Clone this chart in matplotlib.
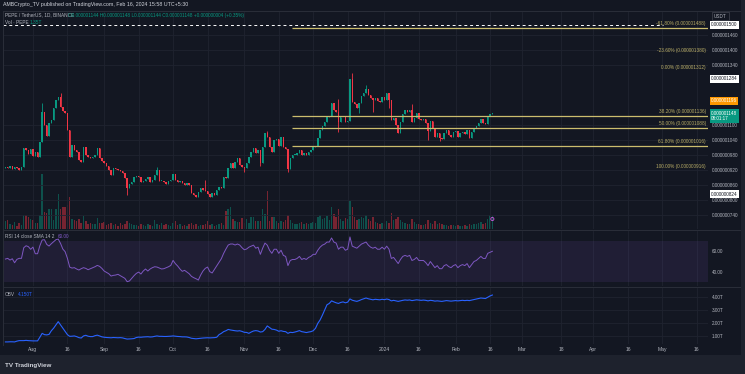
#!/usr/bin/env python
# coding: utf-8
import numpy as np
import pandas as pd
import matplotlib
matplotlib.use("Agg")
import matplotlib.pyplot as plt
import matplotlib.dates as mdates
from matplotlib.patches import Rectangle

# PEPE / USDT daily candles, prices in 1e-9 USDT
start_date = "2023-07-20"
first_open = 928
close = [932, 928, 936, 924, 932, 928, 920, 932, 1008, 1000,
         984, 1004, 976, 992, 972, 1032, 1152, 1100, 1056, 1108,
         1120, 1168, 1200, 1212, 1172, 1156, 1148, 1080, 972, 1020,
         1000, 992, 960, 952, 1012, 980, 972, 968, 972, 980,
         1008, 968, 956, 948, 936, 920, 900, 928, 924, 920,
         916, 908, 888, 848, 864, 872, 892, 896, 892, 872,
         876, 884, 892, 872, 880, 900, 920, 876, 876, 872,
         864, 876, 880, 904, 880, 872, 876, 868, 860, 868,
         860, 828, 820, 812, 832, 848, 840, 836, 824, 812,
         828, 820, 840, 852, 848, 892, 888, 928, 948, 928,
         952, 968, 940, 932, 928, 948, 972, 992, 1008, 988,
         1000, 948, 1012, 1068, 1052, 1012, 992, 1040, 1044, 1016,
         1052, 1012, 1004, 924, 968, 980, 980, 988, 1000, 980,
         988, 980, 992, 1000, 1012, 1016, 1048, 1080, 1096, 1112,
         1132, 1136, 1188, 1160, 1152, 1112, 1132, 1132, 1112, 1116,
         1284, 1192, 1184, 1168, 1188, 1216, 1228, 1244, 1220, 1208,
         1200, 1208, 1196, 1192, 1212, 1200, 1228, 1200, 1120, 1128,
         1100, 1068, 1112, 1144, 1160, 1152, 1160, 1112, 1128, 1148,
         1124, 1120, 1124, 1108, 1076, 1116, 1088, 1052, 1068, 1048,
         1044, 1068, 1080, 1060, 1052, 1072, 1076, 1052, 1068, 1072,
         1064, 1080, 1048, 1072, 1088, 1096, 1108, 1124, 1108, 1104,
         1136, 1144, 1148]
# wicks that stick out of the body: candle -> (high, low)
wicks = {16: (1188, None), 24: (1228, None), 53: (None, 820), 66: (932, None),
         87: (880, None), 104: (None, 912), 111: (None, 936), 114: (1076, None),
         123: (None, 912), 145: (1204, 1072), 151: (1308, None), 154: (None, 1148),
         157: (1260, None), 160: (None, 1152), 167: (None, 1168), 177: (1184, None),
         184: (None, 1040), 189: (None, 1036)}
# volume in trillions
volume = [0.8, 0.9, 0.5, 0.4, 0.7, 0.3, 0.6, 0.4, 1.4, 1.4,
          1.2, 1.0, 0.9, 0.6, 0.6, 1.4, 5.5, 1.7, 1.6, 2.0,
          2.0, 0.9, 2.0, 3.5, 2.0, 2.2, 2.2, 2.4, 3.2, 1.0,
          0.9, 0.8, 1.0, 0.6, 1.3, 0.8, 0.5, 0.6, 0.5, 0.5,
          1.1, 0.6, 0.6, 0.7, 0.4, 0.5, 0.6, 0.4, 0.5, 0.3,
          0.6, 0.4, 0.5, 0.8, 0.6, 0.5, 0.4, 0.4, 0.3, 0.5,
          0.4, 0.3, 0.5, 0.4, 0.3, 0.9, 0.5, 0.4, 0.6, 0.4,
          0.5, 0.4, 0.3, 0.6, 0.8, 0.4, 0.5, 0.3, 0.4, 0.3,
          0.5, 0.6, 0.4, 0.5, 0.3, 0.4, 0.4, 0.5, 0.8, 0.4,
          0.5, 0.3, 0.4, 0.5, 0.6, 0.4, 1.8, 2.0, 2.2, 1.0,
          0.8, 0.7, 0.7, 1.1, 0.6, 1.0, 0.6, 1.2, 1.2, 0.8,
          0.8, 0.8, 2.0, 1.5, 3.8, 0.8, 1.2, 1.2, 0.8, 0.6,
          0.8, 0.7, 0.9, 1.4, 0.9, 0.6, 0.5, 0.5, 0.6, 0.7,
          0.5, 0.6, 0.5, 0.6, 0.7, 0.6, 1.2, 1.4, 1.0, 1.1,
          1.3, 0.9, 2.2, 1.5, 1.2, 2.0, 1.0, 0.8, 1.1, 1.0,
          2.8, 2.2, 1.2, 0.9, 1.0, 1.2, 1.1, 1.4, 1.0, 0.8,
          1.2, 0.7, 0.6, 0.5, 0.6, 0.5, 0.8, 0.6, 1.6, 0.9,
          1.0, 1.2, 0.9, 0.7, 0.6, 0.5, 0.5, 1.0, 0.7, 0.5,
          0.5, 0.4, 0.4, 0.5, 0.9, 0.6, 0.5, 0.8, 0.5, 0.6,
          0.5, 0.4, 0.4, 0.3, 0.4, 0.4, 0.3, 0.4, 0.3, 0.3,
          0.4, 0.3, 0.5, 0.4, 0.5, 0.5, 0.6, 0.7, 0.5, 0.6,
          1.0, 1.4, 1.35]
rsi = [52.4, 53.1, 51.4, 52.7, 48.8, 52.1, 53.1, 53.1, 63.5, 65.4,
       64.5, 61.9, 64.1, 57.6, 57.6, 65.4, 71.0, 71.3, 66.7, 65.1,
       67.4, 69.3, 71.3, 71.9, 67.7, 62.2, 59.6, 53.1, 44.6, 43.6,
       44.0, 42.7, 41.7, 43.0, 44.0, 43.3, 42.0, 43.0, 44.0, 44.9,
       46.2, 45.3, 43.3, 40.7, 39.4, 38.1, 35.8, 36.5, 36.8, 37.5,
       36.2, 34.9, 33.6, 30.3, 31.0, 33.6, 36.2, 38.4, 39.7, 37.8,
       40.7, 42.7, 40.7, 42.7, 44.0, 44.9, 44.6, 43.6, 42.7, 43.0,
       44.0, 44.9, 46.2, 51.1, 47.9, 45.6, 42.7, 40.4, 41.4, 39.7,
       38.1, 35.5, 34.2, 33.2, 31.9, 36.8, 40.7, 43.3, 44.6, 40.1,
       38.8, 42.3, 45.9, 49.2, 52.7, 57.9, 62.2, 66.1, 67.1, 67.1,
       66.1, 67.1, 66.1, 63.5, 61.5, 62.2, 64, 65, 66, 63,
       64, 57, 63, 68, 66, 61, 58, 62, 62, 58,
       61, 56, 55, 46, 51, 52, 52, 53, 55, 52,
       53, 52, 54, 55, 57, 57, 61, 64, 66, 67,
       69, 69, 73, 69, 68, 62, 64, 64, 61, 62,
       74, 65, 64, 63, 65, 67, 68, 69, 66, 64,
       63, 64, 62, 62, 64, 62, 65, 62, 53, 54,
       51, 48, 52, 55, 56, 55, 56, 51, 52, 54,
       51, 51, 51, 49, 46, 50, 47, 44, 46, 43,
       43, 46, 47, 45, 44, 46, 47, 44, 46, 47,
       46, 48, 44, 47, 50, 51, 53, 55, 53, 53,
       58, 59, 60]
# on balance volume, trillions
obv = [0.54, 0.54, 0.55, 0.55, 0.54, 0.60, 0.64, 0.64, 0.64, 0.66,
       0.64, 0.63, 0.62, 0.62, 0.62, 0.90, 1.20, 1.10, 1.08, 1.12,
       1.40, 1.60, 1.85, 2.10, 1.85, 1.60, 1.35, 1.10, 0.97, 0.98,
       1.00, 0.95, 0.87, 0.84, 1.00, 1.05, 0.98, 0.95, 0.95, 1.02,
       1.06, 1.00, 0.93, 0.90, 0.88, 0.87, 0.86, 0.88, 0.87, 0.86,
       0.87, 0.85, 0.80, 0.76, 0.77, 0.78, 0.80, 0.88, 0.91, 0.90,
       0.92, 0.93, 0.94, 0.92, 0.93, 0.97, 1.00, 0.97, 0.97, 0.96,
       0.96, 0.97, 0.98, 1.00, 0.98, 0.96, 0.95, 0.93, 0.93, 0.92,
       0.88, 0.82, 0.80, 0.78, 0.80, 0.82, 0.84, 0.85, 0.86, 0.85,
       0.86, 0.87, 0.90, 1.10, 1.20, 1.33, 1.40, 1.50, 1.46, 1.43,
       1.40, 1.38, 1.40, 1.35, 1.28, 1.27, 1.20, 1.30, 1.38, 1.41,
       1.38, 1.30, 1.33, 1.50, 1.77, 1.65, 1.52, 1.50, 1.45, 1.36,
       1.40, 1.35, 1.33, 1.20, 1.28, 1.26, 1.30, 1.35, 1.41, 1.33,
       1.30, 1.26, 1.30, 1.33, 1.40, 1.59, 1.97, 2.23, 2.60, 3.00,
       3.40, 3.50, 3.70, 3.62, 3.55, 3.50, 3.58, 3.62, 3.55, 3.60,
       3.85, 3.75, 3.70, 3.66, 3.72, 3.80, 3.86, 3.92, 3.86, 3.82,
       3.78, 3.82, 3.80, 3.78, 3.82, 3.79, 3.84, 3.80, 3.70, 3.74,
       3.70, 3.66, 3.70, 3.74, 3.77, 3.75, 3.77, 3.72, 3.75, 3.78,
       3.76, 3.74, 3.76, 3.74, 3.70, 3.74, 3.72, 3.68, 3.70, 3.68,
       3.66, 3.69, 3.72, 3.70, 3.68, 3.70, 3.72, 3.70, 3.72, 3.74,
       3.72, 3.74, 3.72, 3.76, 3.80, 3.84, 3.88, 3.92, 3.90, 3.88,
       3.98, 4.08, 4.15]

fib_pct = ["-61.80%", "-23.60%", "0.00%", "38.20%", "50.00%", "61.80%", "100.00%"]
fib_price = [1488, 1380, 1312, 1136, 1088, 1016, 916]
fib_line = [True, False, False, True, True, True, False]
alert_price = 1500

tick_dates = ["2023-08-01", "2023-08-16", "2023-09-01", "2023-09-16", "2023-10-01",
              "2023-10-16", "2023-11-01", "2023-11-16", "2023-12-01", "2023-12-16",
              "2024-01-01", "2024-01-16", "2024-02-01", "2024-02-16", "2024-03-01",
              "2024-03-18", "2024-04-01", "2024-04-16", "2024-05-01", "2024-05-16"]
tick_labels = ["Aug", "16", "Sep", "16", "Oct", "16", "Nov", "16", "Dec", "16",
               "2024", "16", "Feb", "16", "Mar", "18", "Apr", "16", "May", "16"]
price_ticks = [740, 800, 860, 920, 980, 1040, 1100, 1340, 1400, 1460]

plt.rcParams["font.family"] = ["Liberation Sans", "DejaVu Sans"]

BG = "#131722"
GRID = "#1f2330"
TXT = "#b2b5be"
UP = "#089981"
DN = "#f23645"
FIB = "#cbbd6e"
W, H = 745, 374
FS = 3.3

dates = pd.date_range(start_date, periods=len(close), freq="D")
xs = mdates.date2num(dates)
x0 = xs[0]
c = np.array(close, float)
o = np.r_[first_open, c[:-1]]
hi = np.maximum(o, c)
lo = np.minimum(o, c)
for k, (h, l) in wicks.items():
    if h is not None:
        hi[k] = h
    if l is not None:
        lo[k] = l
up = c >= o
cols = np.where(up, UP, DN)


def px2x(px):  # horizontal pixel -> date number
    return x0 + (px - 5.4) / 2.297


def box(a, b, cc, d):
    return [a / W, 1 - d / H, (cc - a) / W, (d - b) / H]


fig = plt.figure(figsize=(W / 100, H / 100), dpi=100, facecolor=BG)
axv = fig.add_axes(box(3, 12, 708, 229))
ax1 = fig.add_axes(box(3, 12, 708, 229), sharex=axv)
ax2 = fig.add_axes(box(3, 231, 708, 286), sharex=axv)
ax3 = fig.add_axes(box(3, 288, 708, 344), sharex=axv)
ax1.patch.set_visible(False)
for ax in (axv, ax1, ax2, ax3):
    ax.set_facecolor(BG)
    for s in ax.spines.values():
        s.set_visible(False)
    ax.tick_params(length=0, labelsize=FS, colors=TXT, pad=2.5)

tx = mdates.date2num(pd.to_datetime(tick_dates))
axv.set_xlim(px2x(3), px2x(708))
for ax in (ax1, ax2, ax3):
    ax.set_xticks(tx)
    ax.grid(True, color=GRID, lw=0.6)
    ax.set_axisbelow(True)
ax3.set_xticklabels(tick_labels)
ax3.tick_params(axis="x", pad=2.5, labelsize=3.6)
for ax in (axv, ax1, ax2):
    ax.tick_params(axis="x", labelbottom=False)

# volume
axv.bar(xs, volume, width=0.62, color=cols, alpha=0.45, lw=0)
axv.set_ylim(0, 21.7)
axv.set_yticks([])

# candles
ax1.vlines(xs, lo, hi, colors=cols, lw=0.6)
ax1.bar(xs, np.maximum(np.abs(c - o), 3), bottom=np.minimum(o, c),
        width=0.62, color=cols, lw=0)
ax1.set_ylim(684, 1552)
ax1.yaxis.tick_right()
ax1.set_yticks(price_ticks)
ax1.set_yticklabels([f"{p * 1e-9:.9f}" for p in price_ticks])
ax1.scatter([xs[-1]], [724], s=5, facecolors="none", edgecolors="#d05ce3", lw=0.6)

# fib levels and alert line
xa = px2x(292)
for pct, p, drawn in zip(fib_pct, fib_price, fib_line):
    if drawn:
        ax1.hlines(p, xa, px2x(708), colors=FIB, lw=0.9)
    ax1.annotate(f"{pct} ({p * 1e-9:.9f})", xy=(px2x(706), p), xytext=(0, 3),
                 textcoords="offset points", ha="right", va="center",
                 fontsize=3.4, color=FIB, alpha=0.9)
ax1.hlines(alert_price, px2x(3), px2x(663), colors="white", lw=0.7,
           linestyles=(0, (3, 3)))

# RSI pane
ax2.axhspan(30, 70, facecolor="#7e57c2", alpha=0.12, lw=0)
ax2.plot(xs, rsi, color="#7e57c2", lw=0.7)
ax2.set_ylim(26.1, 79.8)
ax2.yaxis.tick_right()
ax2.set_yticks([40, 60])
ax2.set_yticklabels(["40.00", "60.00"])
ax2.grid(False, axis="y")

# OBV pane
ax3.plot(xs, obv, color="#2962ff", lw=0.8)
ax3.set_ylim(0.38, 4.69)
ax3.yaxis.tick_right()
ax3.set_yticks([1, 2, 3, 4])
ax3.set_yticklabels([f"{v:.2f}T" for v in [1, 2, 3, 4]])


def ftext(px, py, s, **kw):
    kw.setdefault("fontsize", FS)
    kw.setdefault("va", "center")
    return fig.text(px / W, 1 - py / H, s, **kw)


# frame pieces
for yy in (10.5, 230, 287):
    fig.add_artist(plt.Line2D([3 / W, 740 / W], [1 - yy / H] * 2, color="#2a2e39", lw=0.7))
fig.add_artist(plt.Line2D([3 / W] * 2, [1 - 10.5 / H, 1 - 345 / H], color="#2a2e39", lw=0.7))
fig.patches.append(Rectangle((0, 0), 1, 19 / H, transform=fig.transFigure,
                             fc="#1e222d", ec="none", zorder=-1))
fig.patches.append(Rectangle((741 / W, 19 / H), 4 / W, 1 - 19 / H,
                             transform=fig.transFigure, fc="#1e222d", ec="none", zorder=-1))
ftext(5, 365, "TV TradingView", color="#d1d4dc", fontsize=4.5, weight="bold")

# header
ftext(3, 4.5, "AMBCrypto_TV published on TradingView.com, Feb 16, 2024 15:58 UTC+5:30",
      color="#d1d4dc", fontsize=3.8)
chg = c[-1] - c[-2]
ftext(5, 15, "PEPE / TetherUS, 1D, BINANCE", color=TXT, fontsize=3.4)
ftext(68, 15, f"O{o[-1] * 1e-9:.9f} H{hi[-1] * 1e-9:.9f} L{lo[-1] * 1e-9:.9f} "
      f"C{c[-1] * 1e-9:.9f} +{chg * 1e-9:.9f} (+{chg / c[-2] * 100:.2f}%)",
      color=UP, fontsize=3.4)
ftext(5, 22, "Vol · PEPE", color=TXT, fontsize=3.4)
ftext(30, 22, f"{volume[-1]:.2f}T", color=UP, fontsize=3.4)
ftext(5, 236, "RSI 14 close SMA 14 2", color=TXT, fontsize=3.4)
ftext(58, 236, f"{rsi[-1]:.2f}", color="#7e57c2", fontsize=3.4)
ftext(5, 294, "OBV", color=TXT, fontsize=3.4)
ftext(18, 294, f"{obv[-1]:.3f}T", color="#2962ff", fontsize=3.4)

# price scale tags
ftext(714, 16, "USDT", color=TXT,
      bbox=dict(boxstyle="square,pad=0.4", fc=BG, ec="#434651", lw=0.5))
for yy, p in [(25, alert_price), (79, 1284), (194, 824)]:
    ftext(711, yy, f"{p * 1e-9:.9f}", color="#131722",
          bbox=dict(boxstyle="square,pad=0.25", fc="white", ec="none"))
ftext(711, 101, f"{1196 * 1e-9:.9f}", color="white",
      bbox=dict(boxstyle="square,pad=0.25", fc="#ff9800", ec="none"))
ftext(711, 116, f"{c[-1] * 1e-9:.9f}\n08:01:17", color="white", linespacing=1.2,
      bbox=dict(boxstyle="square,pad=0.3", fc=UP, ec="none"))

fig.savefig("out.png", dpi=100, facecolor=BG)
